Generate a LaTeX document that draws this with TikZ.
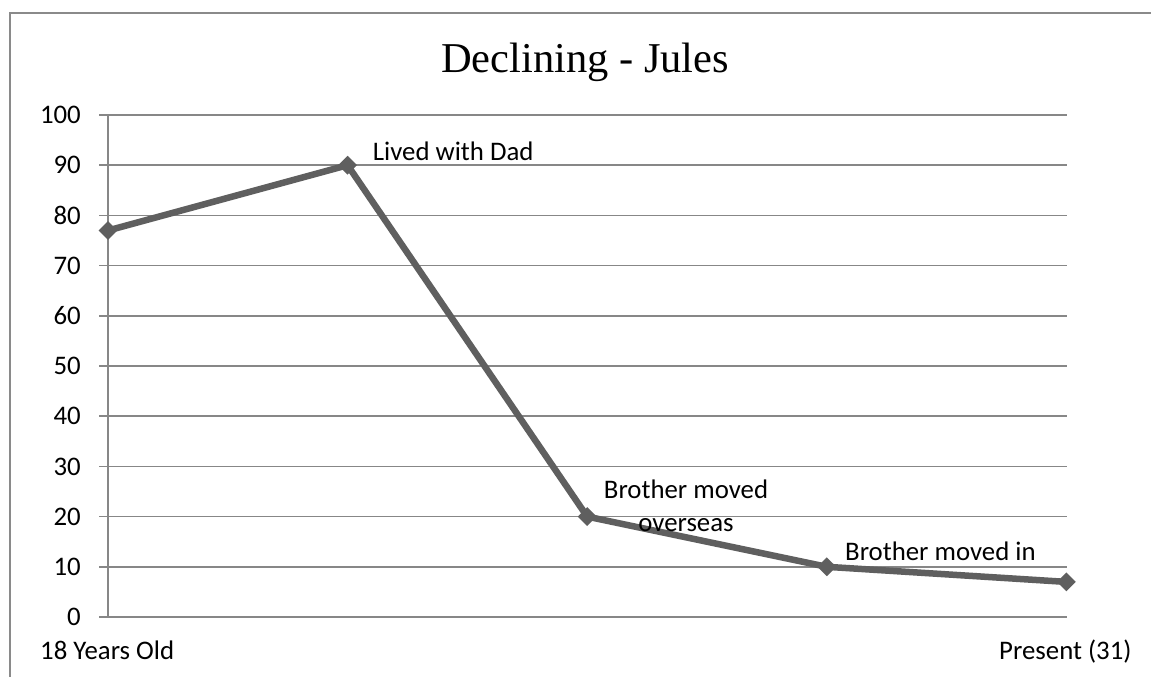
\documentclass[tikz,border=0pt]{standalone}
\usepackage{fontspec}
\usetikzlibrary{shapes.geometric}
\setmainfont{Carlito}
\newfontfamily\titlefont{Liberation Serif}
\begin{document}
\begin{tikzpicture}[x=1pt,y=-1pt,
  grid/.style={draw=gridgray,line width=1.6pt},
  frame/.style={draw=framegray,line width=1.8pt},
  series/.style={draw=seriesgray,line width=6.5pt,line join=round},
  marker/.style={fill=seriesgray,draw=none,shape=diamond,minimum size=19pt,inner sep=0pt},
  lbl/.style={inner sep=0pt,font=\fontsize{26.8}{32}\selectfont},
  ]
\definecolor{gridgray}{HTML}{878787}
\definecolor{framegray}{HTML}{8A8A8A}
\definecolor{seriesgray}{HTML}{5F5F5F}
\useasboundingbox (0,0) rectangle (1151,677);
\fill[white] (0,0) rectangle (1151,677);
% outer frame
\draw[frame] (10,677) -- (10,13) -- (1151,13);
% title
\node[inner sep=0pt,anchor=base,font=\titlefont\fontsize{42.5}{50}\selectfont] (title) at (585,72.5) {Declining - Jules};
% gridlines and ticks
\foreach \v/\yy in {0/617,10/566.8,20/516.6,30/466.4,40/416.2,50/366,60/315.8,70/265.6,80/215.4,90/165.2,100/115}{
  \draw[grid] (99,\yy) -- (1067,\yy);
  \node[lbl,anchor=east] (t\v) at (81,\yy) {\v};
}
\draw[grid] (108,115) -- (108,617);
% series
\coordinate (p1) at (108,230.5);
\coordinate (p2) at (347.6,165.2);
\coordinate (p3) at (587.2,516.6);
\coordinate (p4) at (826.8,566.8);
\coordinate (p5) at (1066.4,581.9);
\draw[series] (p1) -- (p2) -- (p3) -- (p4) -- (p5);
\foreach \p in {p1,p2,p3,p4,p5}{\node[marker] (m\p) at (\p) {};}
% data labels
\node[lbl,anchor=base west] (l2) at (372.7,160.7) {Lived with Dad};
\node[lbl,anchor=base] (l3a) at (686,498) {Brother moved};
\node[lbl,anchor=base] (l3b) at (686,531) {overseas};
\node[lbl,anchor=base west] (l4) at (845,560) {Brother moved in};
% category labels
\node[lbl,anchor=base west] (c1) at (40,659) {18 Years Old};
\node[lbl,anchor=base east] (c5) at (1131.7,659) {Present (31)};
\end{tikzpicture}
\end{document}
